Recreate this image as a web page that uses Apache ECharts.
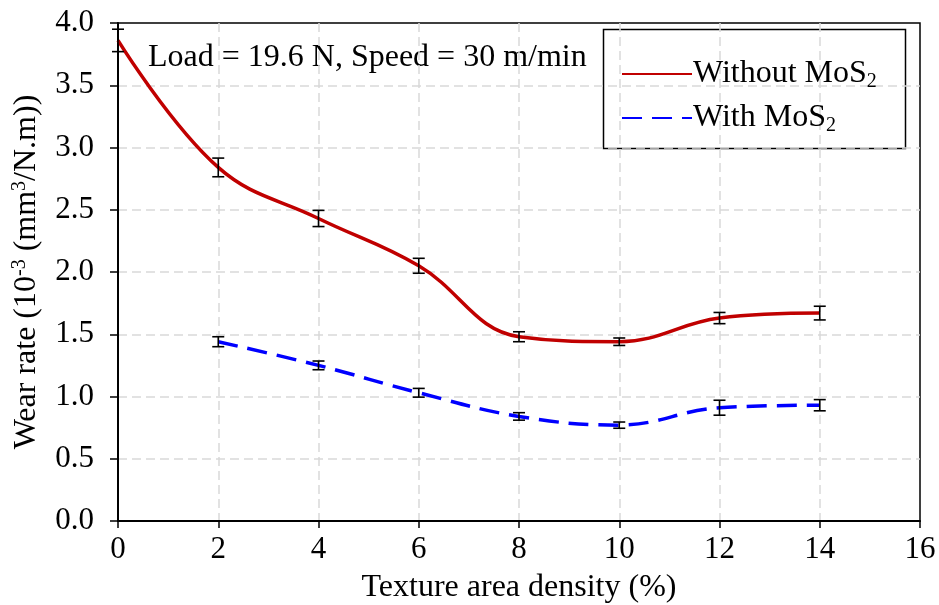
<!DOCTYPE html>
<html>
<head>
<meta charset="utf-8">
<script src="https://cdn.jsdelivr.net/npm/echarts@6/dist/echarts.min.js"></script>
<style>
  html, body { margin: 0; padding: 0; background: #fff; }
  #chart { width: 939px; height: 605px; }
</style>
</head>
<body>
<div id="chart"></div>
<script>
// texture area density (%)
var withoutX = [0, 2, 4, 6, 8, 10, 12, 14];
var withoutVals = [3.86, 2.84, 2.43, 2.05, 1.48, 1.44, 1.63, 1.67];
var withoutErr = [0.09, 0.075, 0.065, 0.06, 0.04, 0.03, 0.045, 0.055];

var withX = [2, 4, 6, 8, 10, 12, 14];
var withVals = [1.44, 1.25, 1.03, 0.84, 0.77, 0.91, 0.93];
var withErr = [0.04, 0.035, 0.035, 0.03, 0.025, 0.06, 0.045];

var FONT = 'Liberation Serif, Times New Roman, serif';

function pairs(xs, vs) {
    return xs.map(function (x, i) { return [x, vs[i]]; });
}
function errRows(xs, vs, es) {
    return xs.map(function (x, i) { return [x, vs[i] - es[i], vs[i] + es[i]]; });
}

// I-shaped error bar
function renderErr(params, api) {
    var x = api.value(0);
    var lo = api.coord([x, api.value(1)]);
    var hi = api.coord([x, api.value(2)]);
    var w = 6;
    var st = { stroke: '#000', lineWidth: 1.6 };
    return {
        type: 'group',
        children: [
            { type: 'line', shape: { x1: lo[0], y1: lo[1], x2: hi[0], y2: hi[1] }, style: st },
            { type: 'line', shape: { x1: lo[0] - w, y1: lo[1], x2: lo[0] + w, y2: lo[1] }, style: st },
            { type: 'line', shape: { x1: hi[0] - w, y1: hi[1], x2: hi[0] + w, y2: hi[1] }, style: st }
        ]
    };
}

var chart = echarts.init(document.getElementById('chart'));

var gridLine = {
    show: true, showMinLine: false, showMaxLine: false,
    lineStyle: { color: '#d9d9d9', width: 1.5, type: [9, 5] }
};

var option = {
    animation: false,
    textStyle: { fontFamily: FONT, color: '#000' },
    grid: {
        left: 118, right: 19, top: 23, bottom: 84,
        outerBoundsMode: 'none', containLabel: false,
        show: true, borderColor: '#000', borderWidth: 1.5
    },
    xAxis: {
        type: 'value', min: 0, max: 16, interval: 2,
        name: 'Texture area density (%)',
        nameLocation: 'middle', nameGap: 51,
        nameTextStyle: { fontFamily: FONT, fontSize: 32, color: '#000' },
        axisLine: { lineStyle: { color: '#000', width: 2 } },
        axisTick: { length: 7, lineStyle: { color: '#000', width: 1.5 } },
        axisLabel: { fontFamily: FONT, fontSize: 31, color: '#000', margin: 13 },
        splitLine: gridLine
    },
    yAxis: {
        type: 'value', min: 0, max: 4, interval: 0.5,
        name: '{a|Wear rate (10}{s|-3}{a| (mm}{s|3}{a|/N.m))}',
        nameLocation: 'middle', nameGap: 74, nameRotate: 90,
        nameTextStyle: {
            fontFamily: FONT, fontSize: 32, color: '#000',
            rich: {
                a: { fontFamily: FONT, fontSize: 32, lineHeight: 34, color: '#000' },
                s: { fontFamily: FONT, fontSize: 20, lineHeight: 34, verticalAlign: 'top', color: '#000' }
            }
        },
        axisLine: { show: true, lineStyle: { color: '#000', width: 2 } },
        axisTick: { show: true, length: 8, lineStyle: { color: '#000', width: 1.5 } },
        axisLabel: {
            fontFamily: FONT, fontSize: 31, color: '#000', margin: 24,
            formatter: function (v) { return v.toFixed(1); }
        },
        splitLine: gridLine
    },
    legend: {
        orient: 'vertical',
        left: 616, top: 53,
        itemWidth: 70, itemHeight: 12, itemGap: 10,
        itemStyle: { opacity: 0 },
        data: ['Without MoS2', 'With MoS2'],
        formatter: function (name) {
            return name === 'Without MoS2' ? '{a|Without MoS}{b|2}' : '{a|With MoS}{b|2}';
        },
        textStyle: {
            fontFamily: FONT, fontSize: 32, color: '#000', padding: [0, 0, 0, -4],
            rich: {
                a: { fontFamily: FONT, fontSize: 32, lineHeight: 36, color: '#000' },
                b: { fontFamily: FONT, fontSize: 20, lineHeight: 36, verticalAlign: 'bottom', color: '#000' }
            }
        }
    },
    graphic: [
        {
            type: 'rect', left: 601, top: 27, silent: true,
            shape: { width: 302, height: 119 },
            style: { fill: 'none', stroke: '#000', lineWidth: 1.5 }
        },
        {
            type: 'text', left: 148, top: 42, silent: true,
            style: { text: 'Load = 19.6 N, Speed = 30 m/min', fontFamily: FONT, fontSize: 32, fill: '#000' }
        }
    ],
    series: [
        {
            name: 'Without MoS2', type: 'line', smooth: 0.4, symbol: 'none',
            data: pairs(withoutX, withoutVals),
            lineStyle: { color: '#c00000', width: 3.5 },
            itemStyle: { color: '#c00000' }, z: 3
        },
        {
            name: 'With MoS2', type: 'line', smooth: 0.4, symbol: 'none',
            data: pairs(withX, withVals),
            lineStyle: { color: '#0000ff', width: 3.5, type: [20, 10] },
            itemStyle: { color: '#0000ff' }, z: 3
        },
        {
            type: 'custom', renderItem: renderErr, z: 5,
            data: errRows(withoutX, withoutVals, withoutErr)
        },
        {
            type: 'custom', renderItem: renderErr, z: 5,
            data: errRows(withX, withVals, withErr)
        }
    ]
};

chart.setOption(option);
</script>
</body>
</html>
